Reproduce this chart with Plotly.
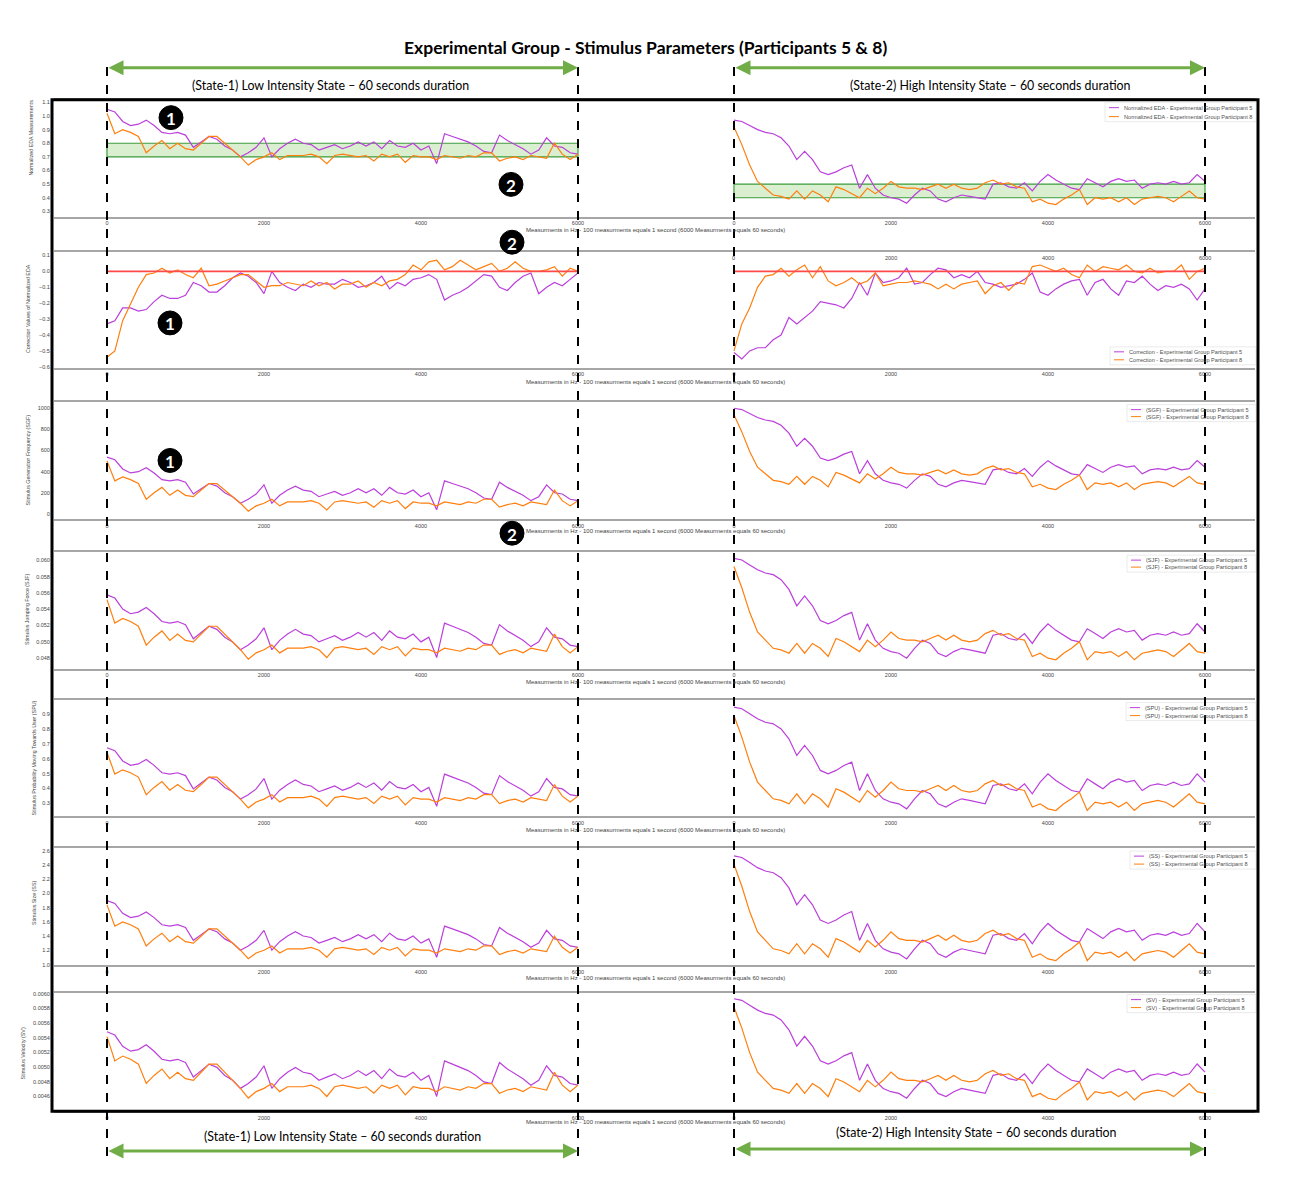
import plotly.graph_objects as go

# the page puts the figure 8 px in from the top-left corner
OFF = 8
W, H = 1300 - OFF, 1183 - OFF
PURPLE = "#bb3fdb"
ORANGE = "#ff7f0e"
GREEN = "#70ad47"

# sample positions (measurements, 100 Hz)
x_samples = list(range(0, 6001, 100))
x_ticks = [0, 2000, 4000, 6000]

# ---- Row 1: normalized EDA ----
eda_left_p5 = [1.05, 1.03, 0.96, 0.93, 0.94, 0.97, 0.93, 0.88, 0.87, 0.88, 0.86, 0.77, 0.81, 0.85, 0.83, 0.78,
               0.75, 0.70, 0.73, 0.77, 0.84, 0.70, 0.76, 0.80, 0.83, 0.80, 0.79, 0.75, 0.77, 0.79, 0.76, 0.78,
               0.81, 0.78, 0.81, 0.76, 0.82, 0.78, 0.77, 0.80, 0.75, 0.78, 0.65, 0.87, 0.85, 0.83, 0.81, 0.78,
               0.74, 0.73, 0.86, 0.82, 0.79, 0.76, 0.72, 0.75, 0.84, 0.78, 0.77, 0.73, 0.72]
eda_left_p8 = [1.02, 0.87, 0.90, 0.88, 0.85, 0.73, 0.78, 0.82, 0.76, 0.80, 0.76, 0.75, 0.80, 0.85, 0.85, 0.80,
               0.75, 0.70, 0.64, 0.68, 0.70, 0.73, 0.68, 0.71, 0.71, 0.71, 0.72, 0.70, 0.65, 0.71, 0.72, 0.71,
               0.70, 0.71, 0.67, 0.72, 0.70, 0.72, 0.66, 0.71, 0.70, 0.70, 0.68, 0.71, 0.70, 0.69, 0.71, 0.70,
               0.73, 0.73, 0.67, 0.69, 0.70, 0.68, 0.71, 0.70, 0.69, 0.80, 0.72, 0.68, 0.72]
eda_right_p5 = [0.97, 0.96, 0.93, 0.90, 0.88, 0.87, 0.84, 0.78, 0.68, 0.74, 0.68, 0.59, 0.57, 0.59, 0.62, 0.64,
                0.47, 0.57, 0.47, 0.42, 0.40, 0.39, 0.36, 0.42, 0.47, 0.45, 0.39, 0.37, 0.40, 0.42, 0.41, 0.40,
                0.39, 0.50, 0.51, 0.48, 0.47, 0.51, 0.45, 0.52, 0.57, 0.53, 0.50, 0.47, 0.46, 0.54, 0.51, 0.48,
                0.52, 0.54, 0.52, 0.53, 0.47, 0.50, 0.51, 0.50, 0.52, 0.50, 0.51, 0.57, 0.52]
eda_right_p8 = [0.92, 0.79, 0.64, 0.52, 0.47, 0.42, 0.41, 0.39, 0.45, 0.39, 0.45, 0.42, 0.37, 0.48, 0.46, 0.43,
                0.40, 0.47, 0.43, 0.47, 0.52, 0.48, 0.47, 0.47, 0.46, 0.48, 0.50, 0.47, 0.50, 0.47, 0.46, 0.47,
                0.51, 0.53, 0.50, 0.51, 0.48, 0.47, 0.37, 0.39, 0.36, 0.35, 0.39, 0.42, 0.46, 0.35, 0.40, 0.39,
                0.40, 0.37, 0.40, 0.35, 0.39, 0.40, 0.41, 0.40, 0.37, 0.41, 0.45, 0.40, 0.39]
eda_band_left = [0.70, 0.80]
eda_band_right = [0.40, 0.50]

# ---- Row 2: correction values ----
corr_left_p5 = [-0.33, -0.31, -0.23, -0.23, -0.25, -0.24, -0.19, -0.15, -0.17, -0.17, -0.15, -0.07, -0.09, -0.13,
                -0.13, -0.09, -0.04, -0.01, -0.03, -0.07, -0.14, 0.00, -0.07, -0.10, -0.12, -0.08, -0.10, -0.07,
                -0.08, -0.08, -0.05, -0.07, -0.10, -0.09, -0.07, -0.03, -0.11, -0.07, -0.09, -0.05, -0.04, -0.02,
                -0.05, -0.18, -0.15, -0.13, -0.10, -0.06, -0.02, -0.03, -0.10, -0.12, -0.07, -0.03, -0.01, -0.14,
                -0.10, -0.07, -0.09, -0.05, -0.01]
corr_left_p8 = [-0.54, -0.50, -0.31, -0.21, -0.10, -0.02, -0.01, 0.02, -0.01, 0.01, -0.02, -0.04, 0.02, -0.09,
                -0.08, -0.06, -0.04, -0.02, -0.02, -0.06, -0.10, -0.09, -0.09, -0.07, -0.08, -0.09, -0.06, -0.09,
                -0.07, -0.11, -0.08, -0.08, -0.06, -0.10, -0.07, -0.09, -0.06, -0.05, -0.02, 0.04, 0.01, 0.06,
                0.07, 0.01, 0.03, 0.07, 0.04, 0.01, 0.03, 0.05, 0.00, 0.02, 0.06, 0.02, 0.00, 0.00, 0.01, 0.03,
                -0.03, 0.02, 0.00]
corr_right_p5 = [-0.51, -0.55, -0.50, -0.48, -0.48, -0.43, -0.40, -0.29, -0.33, -0.29, -0.25, -0.19, -0.20, -0.21,
                 -0.23, -0.17, -0.07, -0.15, -0.01, -0.07, -0.06, -0.04, 0.02, -0.08, -0.07, -0.02, 0.02, 0.01,
                 -0.04, -0.02, -0.04, 0.00, -0.07, -0.08, -0.10, -0.09, -0.08, -0.05, -0.01, -0.13, -0.15, -0.11,
                 -0.08, -0.06, -0.05, -0.15, -0.07, -0.05, -0.11, -0.15, -0.06, -0.07, -0.03, -0.08, -0.12, -0.09,
                 -0.10, -0.08, -0.11, -0.18, -0.11]
corr_right_p8 = [-0.50, -0.33, -0.23, -0.10, -0.03, -0.02, 0.02, -0.03, 0.01, 0.04, -0.04, 0.03, -0.06, -0.09,
                 -0.07, -0.04, -0.08, -0.06, -0.01, -0.09, -0.08, -0.07, -0.07, -0.06, -0.07, -0.08, -0.11, -0.08,
                 -0.11, -0.08, -0.07, -0.06, -0.14, -0.09, -0.07, -0.12, -0.07, -0.08, 0.03, 0.04, 0.02, 0.00,
                 0.02, -0.02, -0.04, 0.04, 0.00, 0.03, 0.02, 0.01, 0.04, 0.00, -0.01, 0.02, -0.01, 0.00, 0.00,
                 0.04, -0.05, 0.00, 0.02]

# ---- Row 3: stimulus generation frequency ----
sgf_left_p5 = [537, 512, 426, 389, 401, 438, 389, 327, 315, 327, 303, 192, 241, 290, 266, 204, 167, 106, 143, 192,
               278, 106, 180, 229, 266, 229, 217, 167, 192, 217, 180, 204, 241, 204, 241, 180, 254, 204, 192, 229,
               167, 204, 44, 315, 290, 266, 241, 204, 155, 143, 303, 254, 217, 180, 130, 167, 278, 204, 192, 143, 130]
sgf_left_p8 = [500, 315, 352, 327, 290, 143, 204, 254, 180, 229, 180, 167, 229, 290, 290, 229, 167, 106, 32, 81,
               106, 143, 81, 118, 118, 118, 130, 106, 44, 118, 130, 118, 106, 118, 69, 130, 106, 130, 56, 118,
               106, 106, 81, 118, 106, 93, 118, 106, 143, 143, 69, 93, 106, 81, 118, 106, 93, 229, 130, 81, 130]
sgf_right_p5 = [994, 982, 945, 908, 884, 871, 835, 761, 639, 712, 639, 528, 504, 528, 565, 590, 381, 504, 381, 320,
                296, 283, 247, 320, 381, 357, 283, 259, 296, 320, 308, 296, 283, 418, 430, 394, 381, 430, 357, 443,
                504, 455, 418, 381, 369, 467, 430, 394, 443, 467, 443, 455, 381, 418, 430, 418, 443, 418, 430, 504, 443]
sgf_right_p8 = [933, 773, 590, 443, 381, 320, 308, 283, 357, 283, 357, 320, 259, 394, 369, 332, 296, 381, 332, 381,
                443, 394, 381, 381, 369, 394, 418, 381, 418, 381, 369, 381, 430, 455, 418, 430, 394, 381, 259, 283,
                247, 234, 283, 320, 369, 234, 296, 283, 296, 259, 296, 234, 283, 296, 308, 296, 259, 308, 357, 296, 283]

# ---- Row 4: stimulus jumping force ----
sjf_left_p5 = [0.05576, 0.05538, 0.05403, 0.05345, 0.05365, 0.05422, 0.05345, 0.05249, 0.05230, 0.05249, 0.05211,
               0.05037, 0.05114, 0.05191, 0.05153, 0.05057, 0.04999, 0.04903, 0.04960, 0.05037, 0.05172, 0.04903,
               0.05018, 0.05095, 0.05153, 0.05095, 0.05076, 0.04999, 0.05037, 0.05076, 0.05018, 0.05057, 0.05114,
               0.05057, 0.05114, 0.05018, 0.05134, 0.05057, 0.05037, 0.05095, 0.04999, 0.05057, 0.04807, 0.05230,
               0.05191, 0.05153, 0.05114, 0.05057, 0.04980, 0.04960, 0.05211, 0.05134, 0.05076, 0.05018, 0.04941,
               0.04999, 0.05172, 0.05057, 0.05037, 0.04960, 0.04941]
sjf_left_p8 = [0.05518, 0.05230, 0.05288, 0.05249, 0.05191, 0.04960, 0.05057, 0.05134, 0.05018, 0.05095, 0.05018,
               0.04999, 0.05095, 0.05191, 0.05191, 0.05095, 0.04999, 0.04903, 0.04787, 0.04864, 0.04903, 0.04960,
               0.04864, 0.04922, 0.04922, 0.04922, 0.04941, 0.04903, 0.04807, 0.04922, 0.04941, 0.04922, 0.04903,
               0.04922, 0.04845, 0.04941, 0.04903, 0.04941, 0.04826, 0.04922, 0.04903, 0.04903, 0.04864, 0.04922,
               0.04903, 0.04884, 0.04922, 0.04903, 0.04960, 0.04960, 0.04845, 0.04884, 0.04903, 0.04864, 0.04922,
               0.04903, 0.04884, 0.05095, 0.04941, 0.04864, 0.04941]
sjf_right_p5 = [0.06026, 0.06005, 0.05945, 0.05885, 0.05845, 0.05825, 0.05764, 0.05644, 0.05443, 0.05563, 0.05443,
                0.05262, 0.05222, 0.05262, 0.05322, 0.05362, 0.05021, 0.05222, 0.05021, 0.04920, 0.04880, 0.04860,
                0.04799, 0.04920, 0.05021, 0.04980, 0.04860, 0.04820, 0.04880, 0.04920, 0.04900, 0.04880, 0.04860,
                0.05081, 0.05101, 0.05041, 0.05021, 0.05101, 0.04980, 0.05121, 0.05222, 0.05141, 0.05081, 0.05021,
                0.05000, 0.05161, 0.05101, 0.05041, 0.05121, 0.05161, 0.05121, 0.05141, 0.05021, 0.05081, 0.05101,
                0.05081, 0.05121, 0.05081, 0.05101, 0.05222, 0.05121]
sjf_right_p8 = [0.05925, 0.05664, 0.05362, 0.05121, 0.05021, 0.04920, 0.04900, 0.04860, 0.04980, 0.04860, 0.04980,
                0.04920, 0.04820, 0.05041, 0.05000, 0.04940, 0.04880, 0.05021, 0.04940, 0.05021, 0.05121, 0.05041,
                0.05021, 0.05021, 0.05000, 0.05041, 0.05081, 0.05021, 0.05081, 0.05021, 0.05000, 0.05021, 0.05101,
                0.05141, 0.05081, 0.05101, 0.05041, 0.05021, 0.04820, 0.04860, 0.04799, 0.04779, 0.04860, 0.04920,
                0.05000, 0.04779, 0.04880, 0.04860, 0.04880, 0.04820, 0.04880, 0.04779, 0.04860, 0.04880, 0.04900,
                0.04880, 0.04820, 0.04900, 0.04980, 0.04880, 0.04860]

# ---- Row 5: stimulus probability moving towards user ----
spu_left_p5 = [0.675, 0.655, 0.586, 0.556, 0.566, 0.596, 0.556, 0.506, 0.497, 0.506, 0.487, 0.397, 0.437, 0.477,
               0.457, 0.407, 0.378, 0.328, 0.358, 0.397, 0.467, 0.328, 0.388, 0.427, 0.457, 0.427, 0.417, 0.378,
               0.397, 0.417, 0.388, 0.407, 0.437, 0.407, 0.437, 0.388, 0.447, 0.407, 0.397, 0.427, 0.378, 0.407,
               0.279, 0.497, 0.477, 0.457, 0.437, 0.407, 0.368, 0.358, 0.487, 0.447, 0.417, 0.388, 0.348, 0.378,
               0.467, 0.407, 0.397, 0.358, 0.348]
spu_left_p8 = [0.645, 0.497, 0.526, 0.506, 0.477, 0.358, 0.407, 0.447, 0.388, 0.427, 0.388, 0.378, 0.427, 0.477,
               0.477, 0.427, 0.378, 0.328, 0.269, 0.308, 0.328, 0.358, 0.308, 0.338, 0.338, 0.338, 0.348, 0.328,
               0.279, 0.338, 0.348, 0.338, 0.328, 0.338, 0.298, 0.348, 0.328, 0.348, 0.288, 0.338, 0.328, 0.328,
               0.308, 0.338, 0.328, 0.318, 0.338, 0.328, 0.358, 0.358, 0.298, 0.318, 0.328, 0.308, 0.338, 0.328,
               0.318, 0.427, 0.348, 0.308, 0.348]
spu_right_p5 = [0.950, 0.939, 0.905, 0.871, 0.848, 0.837, 0.803, 0.736, 0.623, 0.691, 0.623, 0.522, 0.499, 0.522,
                0.555, 0.578, 0.386, 0.499, 0.386, 0.330, 0.307, 0.296, 0.262, 0.330, 0.386, 0.364, 0.296, 0.274,
                0.307, 0.330, 0.319, 0.307, 0.296, 0.420, 0.431, 0.398, 0.386, 0.431, 0.364, 0.443, 0.499, 0.454,
                0.420, 0.386, 0.375, 0.465, 0.431, 0.398, 0.443, 0.465, 0.443, 0.454, 0.386, 0.420, 0.431, 0.420,
                0.443, 0.420, 0.431, 0.499, 0.443]
spu_right_p8 = [0.894, 0.747, 0.578, 0.443, 0.386, 0.330, 0.319, 0.296, 0.364, 0.296, 0.364, 0.330, 0.274, 0.398,
                0.375, 0.341, 0.307, 0.386, 0.341, 0.386, 0.443, 0.398, 0.386, 0.386, 0.375, 0.398, 0.420, 0.386,
                0.420, 0.386, 0.375, 0.386, 0.431, 0.454, 0.420, 0.431, 0.398, 0.386, 0.274, 0.296, 0.262, 0.251,
                0.296, 0.330, 0.375, 0.251, 0.307, 0.296, 0.307, 0.274, 0.307, 0.251, 0.296, 0.307, 0.319, 0.307,
                0.274, 0.319, 0.364, 0.307, 0.296]

# ---- Row 6: stimulus size ----
ss_left_p5 = [1.901, 1.861, 1.722, 1.662, 1.682, 1.741, 1.662, 1.562, 1.542, 1.562, 1.523, 1.343, 1.423, 1.503,
              1.463, 1.363, 1.304, 1.204, 1.264, 1.343, 1.483, 1.204, 1.324, 1.403, 1.463, 1.403, 1.383, 1.304,
              1.343, 1.383, 1.324, 1.363, 1.423, 1.363, 1.423, 1.324, 1.443, 1.363, 1.343, 1.403, 1.304, 1.363,
              1.105, 1.542, 1.503, 1.463, 1.423, 1.363, 1.284, 1.264, 1.523, 1.443, 1.383, 1.324, 1.244, 1.304,
              1.483, 1.363, 1.343, 1.264, 1.244]
ss_left_p8 = [1.841, 1.542, 1.602, 1.562, 1.503, 1.264, 1.363, 1.443, 1.324, 1.403, 1.324, 1.304, 1.403, 1.503,
              1.503, 1.403, 1.304, 1.204, 1.085, 1.164, 1.204, 1.264, 1.164, 1.224, 1.224, 1.224, 1.244, 1.204,
              1.105, 1.224, 1.244, 1.224, 1.204, 1.224, 1.144, 1.244, 1.204, 1.244, 1.125, 1.224, 1.204, 1.204,
              1.164, 1.224, 1.204, 1.184, 1.224, 1.204, 1.264, 1.264, 1.144, 1.184, 1.204, 1.164, 1.224, 1.204,
              1.184, 1.403, 1.244, 1.164, 1.244]
ss_right_p5 = [2.530, 2.507, 2.435, 2.364, 2.317, 2.293, 2.222, 2.079, 1.842, 1.984, 1.842, 1.628, 1.580, 1.628,
               1.699, 1.747, 1.343, 1.580, 1.343, 1.224, 1.177, 1.153, 1.082, 1.224, 1.343, 1.295, 1.153, 1.105,
               1.177, 1.224, 1.200, 1.177, 1.153, 1.414, 1.438, 1.367, 1.343, 1.438, 1.295, 1.462, 1.580, 1.485,
               1.414, 1.343, 1.319, 1.509, 1.438, 1.367, 1.462, 1.509, 1.462, 1.485, 1.343, 1.414, 1.438, 1.414,
               1.462, 1.414, 1.438, 1.580, 1.462]
ss_right_p8 = [2.412, 2.103, 1.747, 1.462, 1.343, 1.224, 1.200, 1.153, 1.295, 1.153, 1.295, 1.224, 1.105, 1.367,
               1.319, 1.248, 1.177, 1.343, 1.248, 1.343, 1.462, 1.367, 1.343, 1.343, 1.319, 1.367, 1.414, 1.343,
               1.414, 1.343, 1.319, 1.343, 1.438, 1.485, 1.414, 1.438, 1.367, 1.343, 1.105, 1.153, 1.082, 1.058,
               1.153, 1.224, 1.319, 1.058, 1.177, 1.153, 1.177, 1.105, 1.177, 1.058, 1.153, 1.177, 1.200, 1.177,
               1.105, 1.200, 1.295, 1.177, 1.153]

# ---- Row 7: stimulus velocity ----
sv_left_p5 = [0.005481, 0.005437, 0.005283, 0.005217, 0.005239, 0.005305, 0.005217, 0.005107, 0.005085, 0.005107,
              0.005063, 0.004865, 0.004953, 0.005041, 0.004997, 0.004887, 0.004821, 0.004711, 0.004777, 0.004865,
              0.005019, 0.004711, 0.004843, 0.004931, 0.004997, 0.004931, 0.004909, 0.004821, 0.004865, 0.004909,
              0.004843, 0.004887, 0.004953, 0.004887, 0.004953, 0.004843, 0.004975, 0.004887, 0.004865, 0.004931,
              0.004821, 0.004887, 0.004601, 0.005085, 0.005041, 0.004997, 0.004953, 0.004887, 0.004799, 0.004777,
              0.005063, 0.004975, 0.004909, 0.004843, 0.004755, 0.004821, 0.005019, 0.004887, 0.004865, 0.004777,
              0.004755]
sv_left_p8 = [0.005415, 0.005085, 0.005151, 0.005107, 0.005041, 0.004777, 0.004887, 0.004975, 0.004843, 0.004931,
              0.004843, 0.004821, 0.004931, 0.005041, 0.005041, 0.004931, 0.004821, 0.004711, 0.004579, 0.004667,
              0.004711, 0.004777, 0.004667, 0.004733, 0.004733, 0.004733, 0.004755, 0.004711, 0.004601, 0.004733,
              0.004755, 0.004733, 0.004711, 0.004733, 0.004645, 0.004755, 0.004711, 0.004755, 0.004623, 0.004733,
              0.004711, 0.004711, 0.004667, 0.004733, 0.004711, 0.004689, 0.004733, 0.004711, 0.004777, 0.004777,
              0.004645, 0.004689, 0.004711, 0.004667, 0.004733, 0.004711, 0.004689, 0.004931, 0.004755, 0.004667,
              0.004755]
sv_right_p5 = [0.005931, 0.005909, 0.005842, 0.005776, 0.005731, 0.005709, 0.005642, 0.005509, 0.005287, 0.005420,
               0.005287, 0.005087, 0.005043, 0.005087, 0.005154, 0.005198, 0.004821, 0.005043, 0.004821, 0.004710,
               0.004666, 0.004643, 0.004577, 0.004710, 0.004821, 0.004777, 0.004643, 0.004599, 0.004666, 0.004710,
               0.004688, 0.004666, 0.004643, 0.004888, 0.004910, 0.004843, 0.004821, 0.004910, 0.004777, 0.004932,
               0.005043, 0.004954, 0.004888, 0.004821, 0.004799, 0.004976, 0.004910, 0.004843, 0.004932, 0.004976,
               0.004932, 0.004954, 0.004821, 0.004888, 0.004910, 0.004888, 0.004932, 0.004888, 0.004910, 0.005043,
               0.004932]
sv_right_p8 = [0.005820, 0.005531, 0.005198, 0.004932, 0.004821, 0.004710, 0.004688, 0.004643, 0.004777, 0.004643,
               0.004777, 0.004710, 0.004599, 0.004843, 0.004799, 0.004732, 0.004666, 0.004821, 0.004732, 0.004821,
               0.004932, 0.004843, 0.004821, 0.004821, 0.004799, 0.004843, 0.004888, 0.004821, 0.004888, 0.004821,
               0.004799, 0.004821, 0.004910, 0.004954, 0.004888, 0.004910, 0.004843, 0.004821, 0.004599, 0.004643,
               0.004577, 0.004555, 0.004643, 0.004710, 0.004799, 0.004555, 0.004666, 0.004643, 0.004666, 0.004599,
               0.004666, 0.004555, 0.004643, 0.004666, 0.004688, 0.004666, 0.004599, 0.004688, 0.004777, 0.004666,
               0.004643]

# y tick values per row
eda_ticks = [0.3, 0.4, 0.5, 0.6, 0.7, 0.8, 0.9, 1.0, 1.1]
corr_ticks = [-0.6, -0.5, -0.4, -0.3, -0.2, -0.1, 0.0, 0.1]
sgf_ticks = [0, 200, 400, 600, 800, 1000]
sjf_ticks = [0.048, 0.050, 0.052, 0.054, 0.056, 0.058, 0.060]
spu_ticks = [0.3, 0.4, 0.5, 0.6, 0.7, 0.8, 0.9]
ss_ticks = [1.0, 1.2, 1.4, 1.6, 1.8, 2.0, 2.2, 2.4, 2.6]
sv_ticks = [0.0046, 0.0048, 0.0050, 0.0052, 0.0054, 0.0056, 0.0058, 0.0060]

XLABEL = "Measurments in Hz - 100 measurments equals 1 second (6000 Measurments equals 60 seconds)"


def fx(p):
    return (p - OFF) / W


def fy(p):
    return 1 - (p - OFF) / H


# label, y title, series, ticks, fmt, top px, bottom px, y range,
# legend rows px, legend text x px, xlabel px, y title (x, y) px
rows = [
    ("Normalized EDA", "Normalized EDA Measurements",
     (eda_left_p5, eda_left_p8, eda_right_p5, eda_right_p8), eda_ticks, ".1f",
     98, 215.5, [0.26, 1.12], (106, 115), 1122, 229, (31, 136)),
    ("Correction", "Correction Values of Normalized EDA",
     (corr_left_p5, corr_left_p8, corr_right_p5, corr_right_p8), corr_ticks, ".1f",
     250.5, 367, [-0.606, 0.124], (351, 359), 1127, 381, (28, 308)),
    ("(SGF)", "Stimulus Generation Frequency (SGF)",
     (sgf_left_p5, sgf_left_p8, sgf_right_p5, sgf_right_p8), sgf_ticks, "d",
     401.5, 519, [-44, 1051], (409, 416), 1144, 531, (28, 460)),
    ("(SJF)", "Stimulus Jumping Force (SJF)",
     (sjf_left_p5, sjf_left_p8, sjf_right_p5, sjf_right_p8), sjf_ticks, ".3f",
     552.3, 669, [0.04669, 0.06098], (560, 567), 1144, 682, (27, 610)),
    ("(SPU)", "Stimulus Probability Moving Towards User (SPU)",
     (spu_left_p5, spu_left_p8, spu_right_p5, spu_right_p8), spu_ticks, ".1f",
     700.7, 817, [0.212, 0.996], (708, 716), 1143, 831, (34, 759)),
    ("(SS)", "Stimulus Size (SS)",
     (ss_left_p5, ss_left_p8, ss_right_p5, ss_right_p8), ss_ticks, ".1f",
     849.3, 966.7, [0.99, 2.634], (857, 865), 1147, 979, (34, 904)),
    ("(SV)", "Stimulus Velocity (SV)",
     (sv_left_p5, sv_left_p8, sv_right_p5, sv_right_p8), sv_ticks, ".4f",
     994.3, 1113, [0.0044, 0.00601], (1001, 1009), 1144, 1124, (23, 1055)),
]

# pixel domain and data range of each column (0 on the left dashed line, 6000 on the right one)
columns = [
    ([54, 655], [-675, 6981]),
    ([655, 1255], [-1006, 6637]),
]

fig = go.Figure()
layout = dict(
    width=W, height=H, margin=dict(l=0, r=0, t=0, b=0),
    paper_bgcolor="white", plot_bgcolor="white",
    font=dict(family="Liberation Sans", color="#333333"),
    showlegend=False,
)
annotations = []
shapes = []

small_font = dict(family="Liberation Sans", size=5.5, color="#444444")
tiny_font = dict(family="Liberation Sans", size=5.6, color="#505050")


def text_note(x, y, text, font, **kw):
    return dict(x=x, y=y, xref=kw.pop("xref", "paper"), yref="paper", text=text, showarrow=False,
                xanchor=kw.pop("xanchor", "center"), yanchor="middle", font=font, **kw)


for r, (label, ytitle, series, ticks, fmt, top, bottom, yrange, leg_rows, leg_x, xlab_y, ytitle_xy) in enumerate(rows):
    for c, (dom, xr) in enumerate(columns):
        k = r * 2 + c + 1
        xname = "xaxis" if k == 1 else f"xaxis{k}"
        yname = "yaxis" if k == 1 else f"yaxis{k}"
        xref = "x" if k == 1 else f"x{k}"
        yref = "y" if k == 1 else f"y{k}"
        layout[xname] = dict(
            domain=[fx(dom[0]), fx(dom[1])], range=xr, anchor=yref,
            tickvals=x_ticks, ticks="", tickfont=small_font, showgrid=False, zeroline=False,
            showline=True, mirror=True, linecolor="#a6a6a6", linewidth=1.5,
        )
        layout[yname] = dict(
            domain=[fy(bottom), fy(top)], range=yrange, anchor=xref,
            tickvals=ticks, tickformat=fmt, ticks="outside" if c == 0 else "",
            ticklen=2, tickcolor="#888888", tickfont=small_font,
            showticklabels=(c == 0), showgrid=False, zeroline=False, showline=False,
        )
        p5, p8 = series[c * 2], series[c * 2 + 1]
        for vals, color, who in ((p5, PURPLE, "5"), (p8, ORANGE, "8")):
            fig.add_trace(go.Scatter(
                x=x_samples, y=vals, mode="lines", xaxis=xref, yaxis=yref,
                line=dict(color=color, width=1.2),
                name=f"{label} - Experimental Group Participant {who}",
            ))

    # compact legend box at the right of the row (state-2 panel)
    shapes.append(dict(type="rect", xref="paper", yref="paper",
                       x0=fx(leg_x - 17), x1=fx(1256), y0=fy(leg_rows[1] + 5), y1=fy(leg_rows[0] - 5),
                       fillcolor="rgba(255,255,255,0.85)", line=dict(color="#dddddd", width=0.6)))
    for ly, color, who in ((leg_rows[0], PURPLE, "5"), (leg_rows[1], ORANGE, "8")):
        shapes.append(dict(type="line", xref="paper", yref="paper",
                           x0=fx(leg_x - 13), x1=fx(leg_x - 3), y0=fy(ly), y1=fy(ly),
                           line=dict(color=color, width=1)))
        annotations.append(text_note(fx(leg_x), fy(ly), f"{label} - Experimental Group Participant {who}",
                                     tiny_font, xanchor="left"))

    annotations.append(text_note(fx(655), fy(xlab_y), XLABEL,
                                 dict(family="Liberation Sans", size=6, color="#444444")))
    annotations.append(text_note(fx(ytitle_xy[0]), fy(ytitle_xy[1]), ytitle,
                                 dict(family="Liberation Sans", size=5.3, color="#444444"), textangle=-90))

# extra tick labels above the right correction panel
for t in x_ticks:
    annotations.append(text_note(t, fy(257), str(t), small_font, xref="x4"))

# green target bands in EDA row
for xr_, yr_, band in (("x", "y", eda_band_left), ("x2", "y2", eda_band_right)):
    shapes.append(dict(type="rect", xref=xr_, yref=yr_, x0=0, x1=6000, y0=band[0], y1=band[1],
                       fillcolor="rgba(150,205,120,0.35)", line=dict(color="#3c9c3c", width=1.2),
                       layer="below"))

# zero reference line in correction row
for xr_, yr_ in (("x3", "y3"), ("x4", "y4")):
    shapes.append(dict(type="line", xref=xr_, yref=yr_, x0=0, x1=6000, y0=0, y1=0,
                       line=dict(color="#ff4a4a", width=1.6)))

# outer frame
shapes.append(dict(type="rect", xref="paper", yref="paper", x0=fx(52), x1=fx(1258), y0=fy(1113), y1=fy(98),
                   line=dict(color="black", width=3)))

# dashed state boundaries
for px_ in (107, 578, 734, 1205):
    shapes.append(dict(type="line", xref="paper", yref="paper", x0=fx(px_), x1=fx(px_), y0=fy(1158), y1=fy(58),
                       line=dict(color="black", width=2, dash="dash")))

# green double arrows (tail offset given in pixels)
for x0, x1, y in ((107, 578, 66), (734, 1205, 66), (107, 578, 1153), (734, 1205, 1151)):
    annotations.append(dict(
        x=fx(x1), y=fy(y), ax=-(x1 - x0), ay=0, xref="paper", yref="paper",
        text="", showarrow=True, arrowhead=2, startarrowhead=2, arrowside="end+start",
        arrowwidth=3, arrowsize=1, startarrowsize=1, arrowcolor=GREEN,
    ))

state_font = dict(family="Lato", size=12.4, color="black")
for text, x, y in (("(State-1) Low Intensity State – 60 seconds duration", 330, 84),
                   ("(State-2) High Intensity State – 60 seconds duration", 990, 84),
                   ("(State-1) Low Intensity State – 60 seconds duration", 342, 1138),
                   ("(State-2) High Intensity State – 60 seconds duration", 976, 1134)):
    annotations.append(text_note(fx(x), fy(y), text, state_font))

annotations.append(text_note(fx(645), fy(46),
                             "<b>Experimental Group - Stimulus Parameters (Participants 5 &amp; 8)</b>",
                             dict(family="Lato", size=17.5, color="black")))

# numbered markers
for digit, cx, cy in (("1", 171, 116), ("2", 511, 183), ("2", 512, 241),
                      ("1", 170, 322), ("1", 170, 460), ("2", 512, 533)):
    shapes.append(dict(type="circle", xref="paper", yref="paper",
                       x0=fx(cx - 12), x1=fx(cx + 12), y0=fy(cy + 12), y1=fy(cy - 12),
                       fillcolor="black", line=dict(color="black", width=1)))
    annotations.append(text_note(fx(cx), fy(cy + 1), f"<b>{digit}</b>",
                                 dict(family="Lato", size=17, color="white")))

layout["annotations"] = annotations
layout["shapes"] = shapes
fig.update_layout(**layout)

fig.write_html("out.html")
